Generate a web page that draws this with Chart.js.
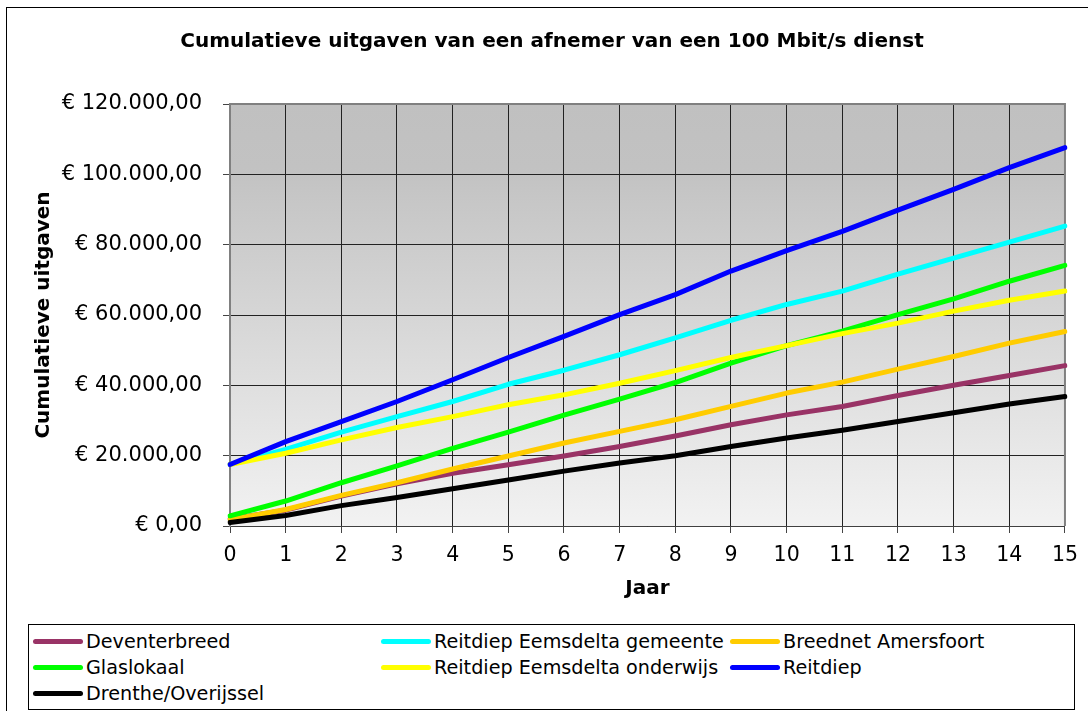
<!DOCTYPE html>
<html>
<head>
<meta charset="utf-8">
<script src="https://cdn.jsdelivr.net/npm/chart.js@4"></script>
<style>
  body { margin: 0; background: #fff; }
  #wrap { position: relative; width: 1088px; height: 711px; overflow: hidden; }
  #legend {
    position: absolute; left: 28px; top: 624px; width: 1047px; height: 86px;
    box-sizing: border-box; border: 1px solid #000; background: #fff;
    display: grid; grid-template-columns: 348px 349px 340px; grid-auto-rows: 26px;
    padding: 3px 0 0 4px;
    font-family: "DejaVu Sans", Verdana, sans-serif; font-size: 19.2px; color: #000;
  }
  .item { display: flex; align-items: center; white-space: nowrap; }
  .swatch { display: inline-block; width: 50px; height: 5px; border-radius: 3px; margin-right: 3px; }
</style>
</head>
<body>
<div id="wrap">
  <canvas id="myChart" width="1088" height="711"></canvas>
  <div id="legend"></div>
</div>
<script>
const years = ["0", "1", "2", "3", "4", "5", "6", "7", "8", "9", "10", "11", "12", "13", "14", "15"];
const yTicks = [0, 20000, 40000, 60000, 80000, 100000, 120000];

const seriesNames = [
  "Deventerbreed",
  "Reitdiep Eemsdelta gemeente",
  "Breednet Amersfoort",
  "Glaslokaal",
  "Reitdiep Eemsdelta onderwijs",
  "Reitdiep",
  "Drenthe/Overijssel",
];
const seriesColors = ["#993366", "#00ffff", "#ffcc00", "#00ff00", "#ffff00", "#0000ff", "#000000"];

const deventerbreed = [2000, 4500, 8500, 12000, 15000, 17400, 19900, 22600, 25600, 28800, 31600, 34000, 37100, 40000, 42800, 45600];
const eemsdeltaGemeente = [17500, 21800, 26700, 31100, 35400, 40300, 44300, 48700, 53500, 58500, 63000, 66800, 71600, 76200, 80700, 85300];
const breednet = [1800, 4700, 8700, 12300, 16200, 19900, 23600, 26900, 30200, 34000, 37800, 40900, 44600, 48200, 52000, 55300];
const glaslokaal = [2900, 7100, 12300, 17100, 22100, 26700, 31500, 36100, 40800, 46300, 51300, 55400, 60100, 64600, 69600, 74100];
const eemsdeltaOnderwijs = [17500, 20700, 24500, 28000, 31100, 34500, 37300, 40600, 44200, 47900, 51300, 54700, 57700, 61100, 64200, 66800];
const reitdiep = [17500, 24000, 29700, 35400, 41600, 47900, 53900, 60100, 65800, 72500, 78300, 83800, 89800, 95700, 101900, 107600];
const drenthe = [1000, 3000, 5800, 8100, 10600, 13100, 15600, 17900, 20000, 22600, 25000, 27200, 29700, 32200, 34700, 36800];

const seriesValues = [deventerbreed, eemsdeltaGemeente, breednet, glaslokaal, eemsdeltaOnderwijs, reitdiep, drenthe];

// "€ 120.000,00"
const euro = (v) => {
  const whole = Math.round(v).toString().replace(/\B(?=(\d{3})+(?!\d))/g, ".");
  return "€ " + whole + ",00";
};

const plotBackground = {
  id: "plotBackground",
  beforeDraw(chart) {
    const { ctx, chartArea: a } = chart;
    ctx.save();
    ctx.fillStyle = "#fff";
    ctx.fillRect(0, 0, chart.width, chart.height);
    const g = ctx.createLinearGradient(0, a.top, 0, a.bottom);
    g.addColorStop(0, "#c0c0c0");
    g.addColorStop(0.15, "#c2c2c2");
    g.addColorStop(1, "#f2f2f2");
    ctx.fillStyle = g;
    ctx.fillRect(a.left, a.top, a.right - a.left, a.bottom - a.top);
    // outer frame
    ctx.strokeStyle = "#000";
    ctx.lineWidth = 1;
    ctx.strokeRect(6.5, 7.5, 1200, 800);
    ctx.restore();
  },
  beforeDatasetsDraw(chart) {
    const { ctx, chartArea: a } = chart;
    ctx.save();
    ctx.strokeStyle = "#808080";
    ctx.lineWidth = 2;
    ctx.beginPath();
    ctx.moveTo(a.left, a.top);
    ctx.lineTo(a.right, a.top);
    ctx.lineTo(a.right, a.bottom);
    ctx.stroke();
    ctx.restore();
  },
};

const ctx = document.getElementById("myChart").getContext("2d");
const chart = new Chart(ctx, {
  type: "line",
  data: {
    labels: years,
    datasets: seriesNames.map((name, i) => ({
      label: name,
      data: seriesValues[i],
      borderColor: seriesColors[i],
      backgroundColor: seriesColors[i],
      borderWidth: 5,
      borderCapStyle: "round",
      borderJoinStyle: "round",
      pointRadius: 0,
      tension: 0,
      fill: false,
      order: seriesNames.length - i,
    })),
  },
  options: {
    responsive: false,
    animation: false,
    devicePixelRatio: 1,
    layout: { padding: { left: 38, right: 22, top: 0, bottom: 105 } },
    plugins: {
      legend: { display: false },
      tooltip: { enabled: false },
      title: {
        display: true,
        text: "Cumulatieve uitgaven van een afnemer van een 100 Mbit/s dienst",
        color: "#000",
        font: { family: "DejaVu Sans", size: 20, weight: "bold", lineHeight: 1.2 },
        padding: { top: 30, bottom: 50 },
      },
    },
    scales: {
      x: {
        type: "category",
        offset: false,
        grid: { color: "#222", lineWidth: 1, tickLength: 7, tickColor: "#444" },
        border: { color: "#404040", width: 1 },
        ticks: {
          color: "#000",
          padding: 10,
          maxRotation: 0,
          autoSkip: false,
          font: { family: "DejaVu Sans", size: 20.5 },
        },
        title: {
          display: true,
          text: "Jaar",
          color: "#000",
          font: { family: "DejaVu Sans", size: 20, weight: "bold", lineHeight: 1.2 },
          padding: { top: 0, bottom: 5 },
        },
        afterFit(scale) { scale.height = 80; },
      },
      y: {
        min: yTicks[0],
        max: yTicks[yTicks.length - 1],
        afterBuildTicks(scale) { scale.ticks = yTicks.map((v) => ({ value: v })); },
        grid: { color: "#222", lineWidth: 1, tickLength: 7, tickColor: "#444" },
        border: { color: "#808080", width: 2 },
        ticks: {
          color: "#000",
          padding: 21,
          font: { family: "DejaVu Sans", size: 21 },
          callback: (v) => euro(v),
        },
        title: {
          display: true,
          text: "Cumulatieve uitgaven",
          color: "#000",
          font: { family: "DejaVu Sans", size: 20, weight: "bold", lineHeight: 1.2 },
          padding: { top: -6, bottom: 0 },
        },
        afterFit(scale) { scale.width = 192; },
      },
    },
  },
  plugins: [plotBackground],
});

// legend in the Excel layout, three columns
const legendBox = document.getElementById("legend");
chart.data.datasets.forEach((ds) => {
  const item = document.createElement("div");
  item.className = "item";
  const sw = document.createElement("span");
  sw.className = "swatch";
  sw.style.background = ds.borderColor;
  item.appendChild(sw);
  item.appendChild(document.createTextNode(ds.label));
  legendBox.appendChild(item);
});
</script>
</body>
</html>
